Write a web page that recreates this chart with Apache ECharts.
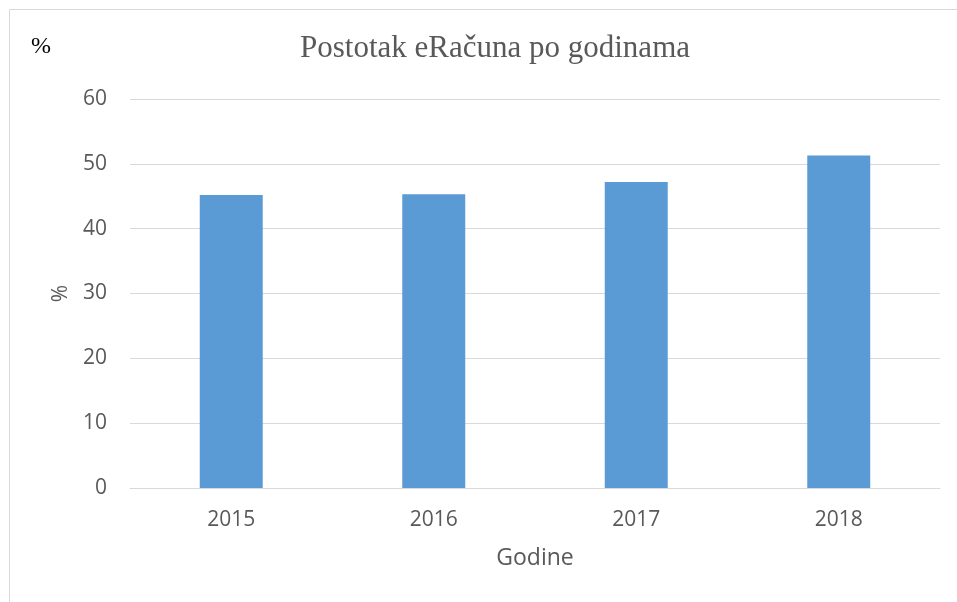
<!DOCTYPE html>
<html><head><meta charset="utf-8">
<script src="https://cdn.jsdelivr.net/npm/echarts@6/dist/echarts.min.js"></script>
<style>html,body{margin:0;padding:0;background:#fff}#c{width:957px;height:602px}</style>
</head><body><div id="c"></div>
<script>
const categories = ['2015', '2016', '2017', '2018'];
const values = [45.2, 45.3, 47.2, 51.3];
const yTicks = { min: 0, max: 60, interval: 10 };

const chart = echarts.init(document.getElementById('c'), null, { renderer: 'canvas' });
chart.setOption({
  backgroundColor: '#fff',
  animation: false,
  title: {
    text: 'Postotak eRačuna po godinama',
    left: 490, top: 28, textAlign: 'center',
    textStyle: { fontFamily: 'Liberation Serif', fontSize: 31, fontWeight: 'normal', color: '#595959' }
  },
  graphic: [
    { type: 'rect', shape: { x: 9.5, y: 9.5, width: 1000, height: 700 }, style: { fill: 'none', stroke: '#D9D9D9', lineWidth: 1 }, z: -1 },
    { type: 'text', left: 31, top: 35, style: { text: '%', fontFamily: 'Liberation Serif', fontSize: 24, fill: '#000' } }
  ],
  grid: { left: 130, right: 17, top: 99, bottom: 114, containLabel: false },
  xAxis: {
    type: 'category', data: categories,
    name: 'Godine', nameLocation: 'middle', nameGap: 59,
    nameTextStyle: { fontFamily: 'Open Sans', fontSize: 23, color: '#595959' },
    axisLine: { lineStyle: { color: '#D9D9D9', width: 1 } },
    axisTick: { show: false },
    axisLabel: { fontFamily: 'Open Sans', fontSize: 21, color: '#595959', margin: 22 }
  },
  yAxis: {
    type: 'value', min: yTicks.min, max: yTicks.max, interval: yTicks.interval,
    name: '%', nameLocation: 'middle', nameGap: 58, nameRotate: 90,
    nameTextStyle: { fontFamily: 'Open Sans', fontSize: 21, color: '#595959' },
    axisLine: { show: false }, axisTick: { show: false },
    axisLabel: { fontFamily: 'Open Sans', fontSize: 21, color: '#595959', margin: 23 },
    splitLine: { lineStyle: { color: '#D9D9D9', width: 1 } }
  },
  series: [{
    type: 'bar', data: values, barWidth: 63,
    itemStyle: { color: '#5B9BD5' }
  }]
});
</script></body></html>
